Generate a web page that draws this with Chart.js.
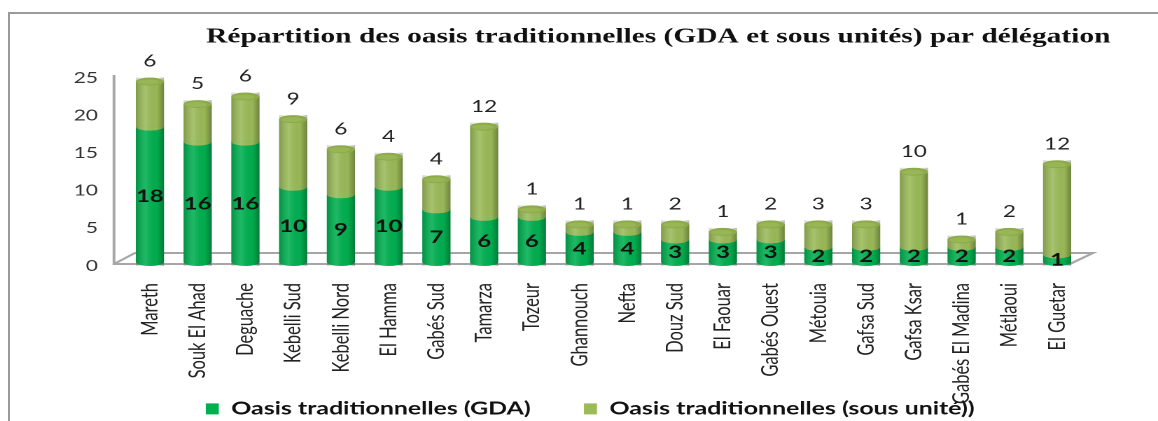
<!DOCTYPE html>
<html>
<head>
<meta charset="utf-8">
<script src="https://cdn.jsdelivr.net/npm/chart.js@4.4.0/dist/chart.umd.min.js"></script>
<style>
  html, body { margin: 0; padding: 0; background: #fff; }
  #wrap { position: relative; width: 1158px; height: 421px; overflow: hidden; }
  #frame { position: absolute; left: 8px; top: 12px; width: 1200px; height: 420px;
           border-left: 2px solid #9a9a9a; border-top: 2px solid #9a9a9a; }
  /* the source picture is a horizontally stretched chart: draw narrow, stretch */
  #chart { position: absolute; left: 0; top: 0; transform-origin: 0 0; transform: scaleX(1.40024); }
</style>
</head>
<body>
<div id="wrap">
  <div id="frame"></div>
  <canvas id="chart" width="827" height="421"></canvas>
</div>
<script>
(function () {
  const DELEGATIONS = [
    'Mareth', 'Souk El Ahad', 'Deguache', 'Kebelli Sud', 'Kebelli Nord',
    'El Hamma', 'Gabés Sud', 'Tamarza', 'Tozeur', 'Ghannouch',
    'Nefta', 'Douz Sud', 'El Faouar', 'Gabés Ouest', 'Métouia',
    'Gafsa Sud', 'Gafsa Ksar', 'Gabés El Madina', 'Métlaoui', 'El Guetar',
  ];
  const GDA        = [18, 16, 16, 10, 9, 10, 7, 6, 6, 4, 4, 3, 3, 3, 2, 2, 2, 2, 2, 1];
  const SOUS_UNITE = [6, 5, 6, 9, 6, 4, 4, 12, 1, 1, 1, 2, 1, 2, 3, 3, 10, 1, 2, 12];
  const Y_TICKS    = [0, 5, 10, 15, 20, 25];

  const GREEN = '#00b050';
  const OLIVE = '#9bbb59';
  const LEGEND_TOP = 362;

  // ── 3D-ish decoration: floor + back axis line ─────────────────────────────
  const floorPlugin = {
    id: 'floor',
    beforeDatasetsDraw(chart) {
      const { ctx, chartArea: a } = chart;
      const L = a.left, R = a.right, B = a.bottom;
      ctx.save();
      ctx.strokeStyle = '#a6a6a6';
      ctx.lineWidth = 2;
      ctx.beginPath();
      ctx.moveTo(L - 8.6, a.top + 1);
      ctx.lineTo(L - 8.6, B + 2);
      ctx.lineTo(R - 7.9, B + 2);
      ctx.lineTo(R + 8.6, B - 9);
      ctx.lineTo(L + 6.4, B - 9);
      ctx.lineTo(L - 8.6, B + 2);
      ctx.stroke();
      ctx.restore();
    },
  };

  function ellipse(ctx, x, y, rx, ry, fill, half) {
    ctx.beginPath();
    if (half) ctx.ellipse(x, y, rx, ry, 0, 0, Math.PI);
    else ctx.ellipse(x, y, rx, ry, 0, 0, Math.PI * 2);
    ctx.fillStyle = fill;
    ctx.fill();
  }

  function shade(ctx, bar, top, bottom) {
    const x0 = bar.x - bar.width / 2, x1 = bar.x + bar.width / 2;
    const g = ctx.createLinearGradient(x0, 0, x1, 0);
    g.addColorStop(0, 'rgba(0,0,0,0.18)');
    g.addColorStop(0.35, 'rgba(255,255,255,0.12)');
    g.addColorStop(0.75, 'rgba(0,0,0,0.02)');
    g.addColorStop(1, 'rgba(0,0,0,0.30)');
    ctx.fillStyle = g;
    ctx.fillRect(x0, top - 4, bar.width, bottom - top + 8);
  }

  // ── cylinders + value labels ──────────────────────────────────────────────
  const cylinderPlugin = {
    id: 'cylinders',
    afterDatasetsDraw(chart) {
      const { ctx } = chart;
      const gda = chart.getDatasetMeta(0).data;
      const sous = chart.getDatasetMeta(1).data;
      ctx.save();
      gda.forEach((b, i) => {
        const s = sous[i];
        const rx = b.width / 2, ry = 4;
        ellipse(ctx, b.x, b.base, rx, ry, GREEN, true);
        ellipse(ctx, b.x, b.y, rx, ry, OLIVE, true);
        shade(ctx, b, s.y, b.base);
        ellipse(ctx, s.x, s.y, rx, ry, '#8eab4c', false);
        ellipse(ctx, s.x - 1, s.y + 0.5, rx - 2.5, ry - 1.5, '#98b656', false);
      });

      ctx.textAlign = 'center';
      ctx.textBaseline = 'middle';
      ctx.fillStyle = '#111';
      ctx.font = 'bold 17px Lato, sans-serif';
      gda.forEach((b, i) => {
        ctx.fillText(String(GDA[i]), b.x, (b.y + b.base) / 2 + 2);
      });
      ctx.fillStyle = '#222';
      ctx.font = '16px Lato, sans-serif';
      sous.forEach((s, i) => {
        ctx.fillText(String(SOUS_UNITE[i]), s.x, s.y - 20);
      });
      ctx.restore();
    },
  };

  // legend items sit over the bottom of the rotated category labels
  const legendPlacement = {
    id: 'legendPlacement',
    afterLayout(chart) {
      const lg = chart.legend;
      if (!lg) return;
      lg.top = LEGEND_TOP;
      lg.bottom = chart.height;
      lg.height = lg.bottom - lg.top;
    },
  };

  new Chart(document.getElementById('chart'), {
    type: 'bar',
    data: {
      labels: DELEGATIONS,
      datasets: [
        { label: 'Oasis traditionnelles (GDA)', data: GDA, backgroundColor: GREEN },
        { label: 'Oasis traditionnelles (sous unité))', data: SOUS_UNITE, backgroundColor: OLIVE },
      ],
    },
    options: {
      responsive: false,
      animation: false,
      devicePixelRatio: 2,
      barPercentage: 0.59,
      categoryPercentage: 1.0,
      borderWidth: 0,
      layout: { padding: { left: 50, right: 34, top: 0, bottom: 0 } },
      plugins: {
        title: {
          display: true,
          align: 'end',
          text: 'Répartition des oasis traditionnelles (GDA et sous unités) par délégation',
          color: '#111',
          font: { family: '"Liberation Serif", "Times New Roman", serif', size: 21, weight: 'bold', lineHeight: 1.2 },
          padding: { top: 24.5, bottom: 24.3 },
        },
        legend: {
          position: 'bottom',
          maxHeight: 10,
          labels: {
            boxWidth: 9.3,
            boxHeight: 11,
            padding: 38,
            color: '#111',
            font: { family: 'Lato, sans-serif', size: 17.8, weight: 'bold' },
          },
        },
        tooltip: { enabled: false },
      },
      scales: {
        x: {
          stacked: true,
          grid: { display: false, drawTicks: false },
          border: { display: false },
          ticks: {
            autoSkip: false,
            minRotation: 90,
            maxRotation: 90,
            padding: 21,
            color: '#222',
            font: { family: 'Lato, sans-serif', size: 16.5 },
          },
          afterFit: s => { s.height = 149; },
        },
        y: {
          stacked: true,
          min: 0,
          max: 25,
          grid: { display: false, drawTicks: false },
          border: { display: false },
          afterBuildTicks: s => { s.ticks = Y_TICKS.map(v => ({ value: v })); },
          ticks: {
            padding: 20,
            labelOffset: 4,
            color: '#333',
            font: { family: 'Lato, sans-serif', size: 15 },
          },
          afterFit: s => { s.width = 40; },
        },
        yR: {
          type: 'linear',
          position: 'right',
          grid: { display: false, drawTicks: false },
          border: { display: false },
          ticks: { display: false },
          afterFit: s => { s.width = 21; },
        },
      },
    },
    plugins: [floorPlugin, cylinderPlugin, legendPlacement],
  });
})();
</script>
</body>
</html>
